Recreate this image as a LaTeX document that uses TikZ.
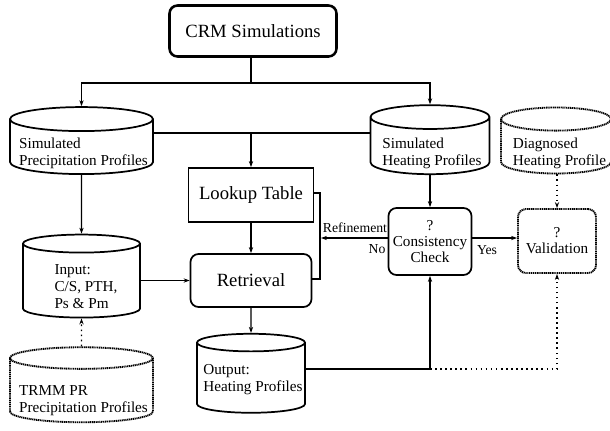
\documentclass[tikz,border=0pt]{standalone}
\usepackage{fontspec}
\setmainfont{Liberation Serif}
\usetikzlibrary{shapes.geometric,arrows.meta}

\begin{document}
\begin{tikzpicture}[x=0.75pt, y=-0.75pt, >={Stealth[length=4.5pt,width=3.2pt]}]
    \useasboundingbox (0,0) rectangle (610,430);
    \begin{scope}
        \tikzstyle{box}=[draw, rectangle, line width=1.3pt, inner sep=0pt, font=\fontsize{14}{16}\selectfont]
        \tikzstyle{rbox}=[box, rounded corners=6pt]
        \tikzstyle{qbox}=[rbox, align=center, font=\fontsize{11.4}{12}\selectfont]
        \tikzstyle{db}=[draw, cylinder, shape border rotate=90, inner ysep=0pt, line width=1.3pt]
        \tikzstyle{wavy}=[dash pattern=on 0.9pt off 0.5pt, line width=1.4pt]
        \tikzstyle{dbtext}=[align=left, inner sep=0pt, font=\fontsize{11.4}{12.8}\selectfont]
        \tikzstyle{lbl}=[inner sep=0pt, font=\fontsize{10.3}{12}\selectfont]
        \node[rbox, line width=1.9pt, minimum width=125.25pt, minimum height=38.25pt] (crm) at (253,31) {CRM Simulations};
        \node[box, minimum width=93.75pt, minimum height=40.5pt] (lookup) at (251,195) {Lookup Table};
        \node[rbox, minimum width=90.75pt, minimum height=39.75pt] (retr) at (251,280.5) {Retrieval};
        \node[qbox, minimum width=62.25pt, minimum height=50.25pt] (cons) at (430,241.5) {?\\Consistency\\Check};
        \node[qbox, wavy, minimum width=58.5pt, minimum height=48pt] (valid) at (557,241) {?\\Validation};
        % data stores
        \node[db, aspect=0.168, inner xsep=53.6pt, minimum width=107.25pt, minimum height=50.25pt] (simprec) at (81.5,153) {};
        \node[db, aspect=0.2, inner xsep=44.6pt, minimum width=89.25pt, minimum height=51.75pt] (simheat) at (430,152) {};
        \node[db, wavy, aspect=0.21, inner xsep=41.25pt, minimum width=82.5pt, minimum height=49.5pt] (diag) at (556,152.5) {};
        \node[db, aspect=0.154, inner xsep=43.9pt, minimum width=87.75pt, minimum height=62.25pt] (input) at (81.5,285.5) {};
        \node[db, wavy, aspect=0.151, inner xsep=53.6pt, minimum width=107.25pt, minimum height=56.25pt] (trmm) at (81.5,396) {};
        \node[db, aspect=0.163, inner xsep=40.5pt, minimum width=81pt, minimum height=59.25pt] (output) at (251,382.5) {};
        \node[dbtext] (simpreclbl) at (83.5,153.5) {Simulated\\Precipitation Profiles};
        \node[dbtext] (simheatlbl) at (432,153) {Simulated\\Heating Profiles};
        \node[dbtext] (diaglbl) at (559.5,153) {Diagnosed\\Heating Profile};
        \node[dbtext] (inputlbl) at (86,287) {Input:\\C/S, PTH,\\Ps \& Pm};
        \node[dbtext] (trmmlbl) at (83.5,400.5) {TRMM PR\\Precipitation Profiles};
        \node[dbtext] (outputlbl) at (253,380) {Output:\\Heating Profiles};
        % edge labels
        \node[lbl] (refine) at (355,228) {Refinement};
        \node[lbl] (no) at (377,249) {No};
        \node[lbl] (yes) at (487,250) {Yes};
    \end{scope}
    \begin{scope}[line width=0.9pt]
        \tikzstyle{dots}=[dash pattern=on 1.2pt off 2.6pt, line width=1.1pt]
        \coordinate (split) at (251,83);
        \coordinate (join) at (251,133);
        \coordinate (brktop) at (320,193);
        \coordinate (brkbot) at (320,279);
        \coordinate (brk) at (321,238);
        \coordinate (outc) at (430,369);
        \draw (crm.south -| split) -- (split);
        \draw[->] (split) -| (simprec.north);
        \draw[->] (split) -| (simheat.north);
        \draw (simprec.east |- join) -- (simheat.west |- join);
        \draw[->] (join) -- (lookup.north);
        \draw[->] (simprec.south) -- (input.north);
        \draw[dots, ->] (trmm.north) -- (input.south);
        \draw[->] (input.east |- retr.west) -- (retr.west);
        \draw[->] (lookup.south) -- (retr.north);
        \draw[->] (retr.south) -- (output.north);
        \draw (lookup.east |- brktop) -- (brktop) -- (brkbot) -- (retr.east |- brkbot);
        \draw[->] (simheat.south) -- (cons.north);
        \draw[dots, ->] (valid.north |- diag.south) -- (valid.north);
        \draw[->] (cons.west |- brk) -- (brk);
        \draw[->] (cons.east |- brk) -- (valid.west |- brk);
        \draw[->] (output.east |- outc) -| (cons.south);
        \draw[dots, ->] (outc) -| (valid.south);
    \end{scope}
\end{tikzpicture}
\end{document}
